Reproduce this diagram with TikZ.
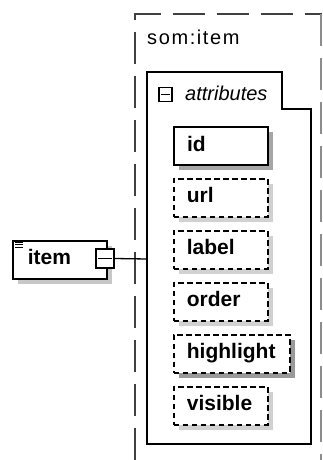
\documentclass[tikz,border=0pt]{standalone}
\usepackage{fontspec}
\setmainfont{Liberation Sans}
\newfontfamily\spacedsans[LetterSpace=8]{Liberation Sans}
\usetikzlibrary{shadows}
\begin{document}
\begin{tikzpicture}[x=1pt,y=-1pt,
  elemfont/.style={font=\fontsize{21}{24}\selectfont\bfseries},
  boxshadow/.style={drop shadow={shadow xshift=5pt,shadow yshift=-5pt,fill=black!#1,opacity=1}},
  attrbox/.style={rectangle,draw=black,fill=white,anchor=north west,
    minimum height=38pt,inner xsep=13pt,inner ysep=0pt,
    text height=14pt,text depth=4pt,align=left,text width=68pt,elemfont},
  required/.style={attrbox,line width=2.3pt,boxshadow=35},
  optional/.style={attrbox,line width=1.7pt,dash pattern=on 5.5pt off 3.5pt,boxshadow=18},
  ctlbox/.style={rectangle,draw=black,fill=white,line width=1.4pt,inner sep=0pt},
  scopeline/.style={black!75,line width=1.4pt,dash pattern=on 32pt off 12pt},
]
\useasboundingbox (0,0) rectangle (322,460);

% dashed scope of the complex type
\draw[scopeline] (135,460) -- (135,14) -- (322,14);
\draw[scopeline,black!45] (321,14) -- (321,460);
\node[anchor=base west,inner sep=0pt,font=\spacedsans\fontsize{20}{24}\selectfont] (title) at (147,45) {som:item};

% attribute group with its tab
\draw[line width=2pt,fill=white] (147,72) -- (282,72) -- (282,109) -- (311,109)
  -- (311,444) -- (147,444) -- cycle;
\coordinate (seqin) at (147,259);
\node[ctlbox,minimum width=13pt,minimum height=14pt] (attctl) at (165.5,94.5) {};
\draw[line width=1.3pt] ([xshift=2.5pt]attctl.west) -- ([xshift=-2.5pt]attctl.east);
\node[anchor=base west,inner sep=0pt,font=\fontsize{20}{24}\selectfont\itshape] (attlabel) at (185,100) {attributes};

% attributes
\node[required] (id) at (173,126) {id};
\node[optional] (url) at (173,178) {url};
\node[optional] (label) at (173,230) {label};
\node[optional] (order) at (173,282) {order};
\node[optional,text width=90pt,boxshadow=40] (highlight) at (173,334) {highlight};
\node[optional] (visible) at (173,386) {visible};

% the element itself
\node[rectangle,draw=black,fill=white,line width=1.8pt,anchor=north west,
  minimum height=38pt,inner xsep=15pt,inner ysep=0pt,text height=14pt,text depth=4pt,
  text width=64pt,align=left,elemfont,boxshadow=22] (item) at (12,240) {item};
\draw[line width=1pt] (15,242) -- (23,242) (15,244.5) -- (23,244.5) (15,247) -- (23,247);
\node[ctlbox,minimum width=18pt,minimum height=19pt] (itemctl) at (105,258.5) {};
\draw[line width=1.3pt] ([xshift=3pt]itemctl.west) -- ([xshift=-3pt]itemctl.east);
\draw[line width=1.3pt] (itemctl.east) -- (seqin);
\end{tikzpicture}
\end{document}
